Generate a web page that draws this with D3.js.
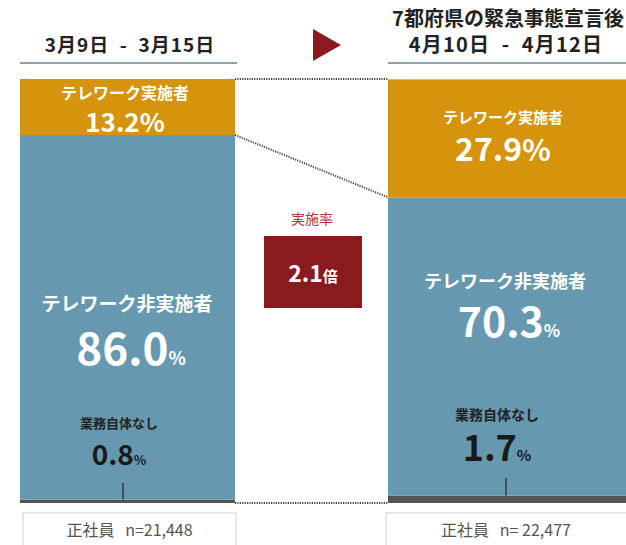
<!DOCTYPE html>
<html>
<head>
<meta charset="utf-8">
<script src="https://cdn.jsdelivr.net/npm/d3@7"></script>
<style>
  body { margin: 0; background: #fff; }
  text { font-family: "Noto Sans CJK JP", "Noto Sans", sans-serif; }
</style>
</head>
<body>
<div id="canvas"></div>
<script>
var w = 626;
var h = 545;

// data
var periods = ["3月9日 - 3月15日", "4月10日 - 4月12日"];
var periodNotes = ["", "7都府県の緊急事態宣言後"];
var teleworkRate = [13.2, 27.9];
var nonTeleworkRate = [86.0, 70.3];
var noWorkRate = [0.8, 1.7];
var sampleSizes = ["n=21,448", "n= 22,477"];
var segmentNames = ["テレワーク実施者", "テレワーク非実施者", "業務自体なし"];
var ratioLabel = "実施率";
var ratioValue = "2.1";
var ratioUnit = "倍";
var groupLabel = "正社員";

var orange = "#d6930c";
var blue = "#6699af";
var darkRed = "#8b1a1f";

var svg = d3.select("#canvas").append("svg")
        .attr("width", w)
        .attr("height", h)
        .style("background-color", "#fff");

// build rows for the stack
var rows = periods.map(function(p, i){
  return {period: p, noWork: noWorkRate[i], nonTele: nonTeleworkRate[i], tele: teleworkRate[i]};
});
var keys = ["noWork", "nonTele", "tele"];
var stacked = d3.stack().keys(keys)(rows);

var yScale = d3.scaleLinear()
        .domain([0, 100])
        .range([503, 79]);
var xLeft = d3.scaleOrdinal().domain(periods).range([20, 388]);
var xRight = d3.scaleOrdinal().domain(periods).range([235, 626]);
var colorScale = d3.scaleOrdinal().domain(keys).range(["#555555", blue, orange]);

// bars
svg.selectAll("g.layer")
  .data(stacked)
  .join("g")
  .attr("class", "layer")
  .attr("fill", function(d){ return colorScale(d.key); })
  .selectAll("rect")
  .data(function(d){ return d; })
  .join("rect")
  .attr("x", function(d){ return xLeft(d.data.period); })
  .attr("width", function(d){ return xRight(d.data.period) - xLeft(d.data.period); })
  .attr("y", function(d){ return yScale(d[1]); })
  .attr("height", function(d){ return yScale(d[0]) - yScale(d[1]); });

// headers + underline
var header = svg.append("g");
periods.forEach(function(p, i){
  var x0 = xLeft(p), x1 = xRight(p);
  var cx = (x0 + x1) / 2;
  if (periodNotes[i]) {
    header.append("text").attr("x", cx + 1).attr("y", 26)
      .attr("text-anchor", "middle").attr("font-size", 20).attr("font-weight", 700)
      .attr("fill", "#222").text(periodNotes[i]);
  }
  header.append("text").attr("x", i == 0 ? 130 : 506).attr("y", 52)
    .attr("text-anchor", "middle").attr("font-size", i == 0 ? 19 : 20).attr("font-weight", 700)
    .attr("letter-spacing", i == 0 ? 1 : 1.2)
    .attr("xml:space", "preserve")
    .attr("fill", "#222").text(p.replace(" - ", "  -  "));
  header.append("line")
    .attr("x1", x0).attr("x2", i == 0 ? x1 + 2 : x1)
    .attr("y1", 63).attr("y2", 63)
    .attr("stroke", "#8da3b3").attr("stroke-width", 2);
});

// arrow
svg.append("path")
  .attr("d", d3.line()([[313, 29], [341, 45], [313, 61]]))
  .attr("fill", darkRed);

// dotted connectors
var p0 = periods[0], p1 = periods[1];
var connectors = [
  [[xRight(p0), yScale(100)], [xLeft(p1), yScale(100)]],
  [[xRight(p0), yScale(100 - teleworkRate[0])], [xLeft(p1), yScale(100 - teleworkRate[1])]],
  [[xRight(p0), yScale(0)], [xLeft(p1), yScale(0)]]
];
svg.selectAll("path.conn")
  .data(connectors)
  .join("path")
  .attr("class", "conn")
  .attr("d", function(d){ return d3.line()(d); })
  .attr("stroke", "#444")
  .attr("stroke-width", 2)
  .attr("stroke-dasharray", "1.2,1.2")
  .attr("fill", "none");

// labels inside bars (per-panel sizing)
var layout = [
  {cx: 125, t1: [16, 99], t2: [26, 26, 132], n1: [19, 311], n2: [44, 18, 365], z1: [13, 428], z2: [28, 13, 465], tickX: 123, tickTop: 483},
  {cx: 503, t1: [15, 123], t2: [32, 30, 161], n1: [18, 288], n2: [41, 17, 337], z1: [14, 420], z2: [36, 15, 461], tickX: 506, tickTop: 478}
];

function valueText(g, x, y, val, bigSize, pctSize, color){
  var t = g.append("text").attr("x", x).attr("y", y)
    .attr("text-anchor", "middle").attr("font-weight", 700).attr("fill", color);
  t.append("tspan").attr("font-size", bigSize).text(val.toFixed(1));
  t.append("tspan").attr("font-size", pctSize).text("%");
}

periods.forEach(function(p, i){
  var L = layout[i];
  var g = svg.append("g");
  g.append("text").attr("x", L.cx).attr("y", L.t1[1]).attr("text-anchor", "middle")
    .attr("font-size", L.t1[0]).attr("font-weight", 700).attr("fill", "#fff").text(segmentNames[0]);
  valueText(g, L.cx, L.t2[2], teleworkRate[i], L.t2[0], L.t2[1], "#fff");

  g.append("text").attr("x", L.cx + 2).attr("y", L.n1[1]).attr("text-anchor", "middle")
    .attr("font-size", L.n1[0]).attr("font-weight", 700).attr("fill", "#fff").text(segmentNames[1]);
  valueText(g, L.cx + 6, L.n2[2], nonTeleworkRate[i], L.n2[0], L.n2[1], "#fff");

  g.append("text").attr("x", L.cx - 6).attr("y", L.z1[1]).attr("text-anchor", "middle")
    .attr("font-size", L.z1[0]).attr("font-weight", 700).attr("fill", "#222").text(segmentNames[2]);
  valueText(g, L.cx - 6, L.z2[2], noWorkRate[i], L.z2[0], L.z2[1], "#1a1a1a");

  // tick from the thin segment
  g.append("line")
    .attr("x1", L.tickX).attr("x2", L.tickX)
    .attr("y1", L.tickTop).attr("y2", yScale(noWorkRate[i]))
    .attr("stroke", "#222").attr("stroke-width", 1.2);

  // footer box
  var x0 = xLeft(p), x1 = xRight(p);
  g.append("rect")
    .attr("x", i == 0 ? x0 + 3 : x0 - 2).attr("y", 513)
    .attr("width", (i == 0 ? x1 + 1 : x1 + 4) - (i == 0 ? x0 + 3 : x0 - 2)).attr("height", 40)
    .attr("fill", "#fff").attr("stroke", "#cfcfcf").attr("stroke-width", 1);
  g.append("text").attr("x", (x0 + x1) / 2 + (i == 0 ? 2 : -1)).attr("y", 536)
    .attr("text-anchor", "middle").attr("font-size", 16).attr("fill", "#555")
    .attr("xml:space", "preserve")
    .text(groupLabel + "   " + sampleSizes[i]);
});

// ratio box in the middle
svg.append("text").attr("x", 312).attr("y", 224).attr("text-anchor", "middle")
  .attr("font-size", 14).attr("fill", "#c0303a").text(ratioLabel);
svg.append("rect").attr("x", 264).attr("y", 236).attr("width", 98).attr("height", 72)
  .attr("fill", darkRed);
var rt = svg.append("text").attr("x", 313).attr("y", 282).attr("text-anchor", "middle")
  .attr("font-weight", 700).attr("fill", "#fff");
rt.append("tspan").attr("font-size", 23).text(ratioValue);
rt.append("tspan").attr("font-size", 15).text(ratioUnit);
</script>
</body>
</html>
